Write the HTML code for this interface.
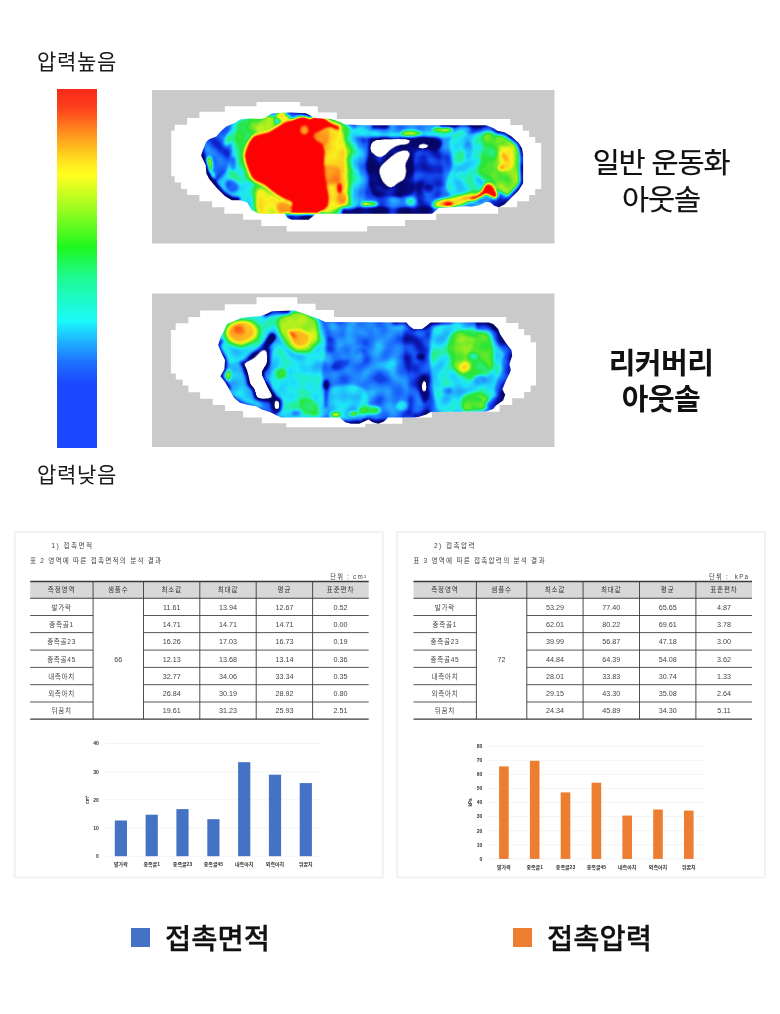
<!DOCTYPE html>
<html lang="ko">
<head>
<meta charset="utf-8">
<title>압력 분포 비교</title>
<style>
html,body{margin:0;padding:0;background:#fff;}
body{width:780px;height:1014px;position:relative;overflow:hidden;font-family:"Liberation Sans","Noto Sans CJK KR",sans-serif;color:#111;}
.abs{position:absolute;white-space:nowrap;}
.lbl{font-size:21px;line-height:24px;letter-spacing:0.65px;color:#1a1a1a;}
.name{font-size:28.3px;line-height:36.5px;text-align:center;width:200px;color:#111;letter-spacing:-1.1px;-webkit-text-stroke:0.25px #111;transform:scaleX(1.04);transform-origin:50% 50%;}
.nb{font-size:29px;letter-spacing:-0.5px;font-weight:700;-webkit-text-stroke:0;transform:none;}
.bar{left:57px;top:89px;width:40px;height:359px;background:linear-gradient(to bottom,#fa2a1c 0%,#fc3e1c 5%,#ff8c1e 12%,#ffc31e 17%,#ffeb1e 21%,#ffff20 24%,#a0fc20 33%,#1ef81e 44%,#1efa8c 52%,#1cfafa 64.5%,#1eaaff 71%,#1e6eff 76.5%,#1c48ff 82%,#1c48ff 100%);}
.panel{border:1px solid #ececec;background:#fff;box-sizing:border-box;}
.leg{font-size:28.5px;font-weight:500;line-height:32px;color:#111;-webkit-text-stroke:0.3px #111;}
.sq{width:19px;height:19px;}
</style>
</head>
<body>
<div class="abs lbl" style="left:37px;top:50px;">압력높음</div>
<div class="abs bar"></div>
<div class="abs lbl" style="left:37px;top:463px;">압력낮음</div>
<svg class="abs" style="left:0;top:0" width="780" height="520" viewBox="0 0 780 520">
<defs>
<filter id="jet" filterUnits="userSpaceOnUse" x="150" y="85" width="410" height="370" color-interpolation-filters="sRGB">
<feGaussianBlur in="SourceGraphic" stdDeviation="1.7" result="b"/>
<feTurbulence type="fractalNoise" baseFrequency="0.075" numOctaves="1" seed="7" result="n0"/>
<feColorMatrix in="n0" type="matrix" values="2 0 0 0 -0.5  2 0 0 0 -0.5  2 0 0 0 -0.5  0 0 0 0 1" result="n"/>
<feComposite in="b" in2="n" operator="arithmetic" k1="-0.34" k2="1.17" k3="0.34" k4="-0.17" result="f"/>
<feComponentTransfer in="f" result="c">
<feFuncR type="table" tableValues="0.024 0.025 0.026 0.028 0.029 0.031 0.034 0.040 0.046 0.052 0.059 0.067 0.075 0.082 0.091 0.101 0.111 0.121 0.131 0.141 0.137 0.133 0.129 0.125 0.122 0.118 0.129 0.140 0.151 0.157 0.157 0.157 0.157 0.284 0.412 0.539 0.667 0.771 0.876 0.980 0.985 0.989 0.993 0.998 1.000 1.000 1.000 0.999 0.997 0.996 0.996"/>
<feFuncG type="table" tableValues="0.024 0.028 0.032 0.036 0.041 0.045 0.061 0.088 0.116 0.143 0.182 0.233 0.284 0.335 0.381 0.423 0.464 0.506 0.547 0.588 0.642 0.695 0.749 0.803 0.856 0.910 0.919 0.928 0.937 0.934 0.921 0.908 0.894 0.906 0.918 0.929 0.941 0.946 0.952 0.957 0.884 0.810 0.737 0.664 0.562 0.431 0.301 0.184 0.082 0.024 0.008"/>
<feFuncB type="table" tableValues="0.392 0.417 0.442 0.467 0.492 0.517 0.566 0.640 0.713 0.787 0.843 0.882 0.922 0.961 0.982 0.986 0.989 0.993 0.996 1.000 0.995 0.991 0.986 0.982 0.977 0.973 0.863 0.753 0.643 0.536 0.430 0.325 0.220 0.194 0.169 0.143 0.118 0.118 0.118 0.118 0.118 0.118 0.118 0.118 0.108 0.090 0.072 0.051 0.027 0.013 0.008"/>
</feComponentTransfer>
<feColorMatrix in="b" type="matrix" values="0 0 0 0 0  0 0 0 0 0  0 0 0 0 0  50 0 0 0 -1" result="m"/>
<feComposite in="c" in2="m" operator="in"/>
</filter>
<clipPath id="f1"><polygon points="201,155.5 202.9,149.9 206.4,141.4 209.2,139.3 216.3,136.5 220.5,131.5 226.2,126.6 234.6,123.1 240.3,119.6 248.7,118.6 260,118.9 264.9,118.1 270.5,113.9 276.2,112.9 290.3,112.5 305.8,113.2 311.4,116 314.2,118.1 331.2,118.9 339.6,121.7 345.3,124.5 365,125.2 486.2,125.2 493.2,128 497.4,130.8 504.5,132.2 511.6,136.5 518.6,142.8 522.1,148.5 523.1,155.5 523.1,179 523.1,183.3 518.6,190.4 511.5,197.4 504.5,204.5 498.9,207.3 494.6,205.9 490.4,202.4 486.2,201.7 479.1,205.2 472,206.6 465,206.3 439,208 432,213.7 315.6,213.7 312.8,216.5 308.6,219.7 291.7,219.7 287.4,217.9 284.6,213.7 260,213.7 251.6,210.1 247.3,202.4 240.3,200.3 231.8,200.3 224.8,196 216.3,187.6 209.2,179.1 206.4,173.5 205.7,165"/></clipPath>
<clipPath id="f2"><polygon points="260,316.2 248.7,316.9 240.3,318.3 234.6,321.1 226.9,324 224.8,328.9 220.5,337.4 218.1,345 221.5,353.1 225,360 224.4,369.2 220.4,376.2 225,381.9 229.6,390 234.2,398.1 240,402.7 248.1,405 256.2,406.2 261.9,409.6 270,411.9 276.9,415.4 281.5,417.4 339.6,417.4 345.3,422.3 350.9,423.7 359.4,423.7 364.2,421.6 368.5,419.5 372.7,422.3 378.3,423.7 384,421.6 388.2,417.4 413.6,417.4 419.2,416.7 426.3,414.5 430.5,412 486.2,411.4 493.2,408.9 496,405.4 503.1,400.4 505.2,394.8 502.4,389.2 505.9,380.7 510.1,372.2 510.8,369.8 509.4,364.2 512.2,355.7 511.5,350.1 505.9,343 500.3,334.5 498.1,328.9 493.2,324 489,322.6 430.5,322.6 426.3,326.1 422,328.9 413.6,328.9 409.4,326.1 406.5,322.6 325.5,321.9 317,318.3 308.6,315.5 301.5,312.7 294.5,310.6 271.9,311.3 266.3,314.1"/></clipPath>
</defs>
<rect x="152" y="90" width="402.5" height="153.5" fill="#cacaca"/>
<rect x="152" y="293.5" width="402.5" height="153.5" fill="#cacaca"/>
<polygon points="256.5,101.9 300.1,101.9 300.1,106.2 317.8,106.2 317.8,112.5 336.8,112.5 336.8,118.9 510.4,118.9 510.4,124.9 522.8,124.9 522.8,130.8 529.2,130.8 529.2,136.9 535.2,136.9 535.2,143.1 541.2,143.1 541.2,189 535.2,189 535.2,194.9 529.2,194.9 529.2,201.2 517.2,201.2 517.2,207.3 498.1,207.3 498.1,213.7 436.2,213.7 436.2,220 405.1,220 405.1,225.9 367.1,225.9 367.1,231.6 286.7,231.6 286.7,225.9 261.3,225.9 261.3,219.7 243.1,219.7 243.1,213.7 224.3,213.7 224.3,207.3 212.1,207.3 212.1,201.2 199.4,201.2 199.4,194.9 187,194.9 187,189 181,189 181,182.6 174.7,182.6 174.7,176.3 171.2,176.3 171.2,130.8 174.7,130.8 174.7,124.8 187,124.8 187,118.1 199.4,118.1 199.4,111.8 224.8,111.8 224.8,106.2 256.5,106.2" fill="#fff"/>
<g clip-path="url(#f1)"><g filter="url(#jet)">
<rect x="150" y="85" width="410" height="165" fill="#454545"/>
<ellipse cx="202" cy="154" rx="3" ry="9" fill="#0d0d0d"/>
<path d="M232.0,124.0C234.4,119.7 246.0,118.8 250.0,118.0C254.0,117.2 260.4,105.1 262.0,118.0C263.6,130.9 263.6,202.5 262.0,215.0C260.4,227.5 253.2,213.9 250.0,212.0C246.8,210.1 241.7,203.3 238.0,201.0C234.3,198.7 225.2,197.1 222.0,195.0C218.8,192.9 213.5,188.1 214.0,185.0C214.5,181.9 223.6,176.7 226.0,172.0C228.4,167.3 231.2,156.4 232.0,150.0C232.8,143.6 229.6,128.3 232.0,124.0Z" fill="#808080"/>
<ellipse cx="232" cy="186" rx="7" ry="6" fill="#454545" transform="rotate(30 232 186)"/>
<ellipse cx="216" cy="150" rx="5" ry="9" fill="#3d3d3d"/>
<ellipse cx="209" cy="165" rx="3.8" ry="9" fill="#bfbfbf"/>
<ellipse cx="212" cy="176" rx="3" ry="4" fill="#a3a3a3"/>
<path d="M251.6,133.0C253.9,132.4 262.5,130.9 265.3,129.8C268.2,128.8 270.9,126.4 273.1,125.1C275.2,123.8 279.3,121.0 281.6,119.8C283.9,118.7 289.8,103.5 290.3,116.7C290.8,129.9 285.3,205.8 285.3,218.6C285.2,231.3 289.3,214.2 290.0,212.4C290.6,210.5 291.2,206.6 290.0,205.0C288.7,203.4 283.6,202.2 280.7,200.6C277.8,199.0 271.2,195.1 268.4,193.1C265.5,191.2 261.7,187.2 259.2,185.7C256.8,184.2 251.7,183.0 249.9,182.0C248.2,181.0 247.2,179.6 246.2,178.3C245.3,177.0 243.9,174.1 243.1,172.3C242.3,170.6 240.7,167.3 240.0,165.0C239.3,162.7 237.7,157.3 237.7,155.0C237.7,152.7 239.3,149.6 240.0,147.7C240.7,145.7 242.1,142.0 243.1,140.2C244.1,138.4 246.6,135.3 247.8,134.3C248.9,133.4 249.2,133.6 251.6,133.0Z" fill="#a3a3a3"/>
<path d="M252.0,150.0C254.0,147.3 253.8,136.3 257.0,132.0C260.2,127.7 275.3,120.4 276.0,118.0C276.7,115.6 266.3,114.1 262.0,114.0C257.7,113.9 247.3,115.4 244.0,117.0C240.7,118.6 238.1,122.7 237.0,126.0C235.9,129.3 235.3,138.5 236.0,142.0C236.7,145.5 239.9,150.9 242.0,152.0C244.1,153.1 250.0,152.7 252.0,150.0Z" fill="#a3a3a3"/>
<path d="M256.5,128.0C257.0,126.3 259.9,121.6 262.0,120.0C264.1,118.4 270.1,115.7 272.0,116.0C273.9,116.3 276.5,120.1 276.0,122.0C275.5,123.9 270.4,128.5 268.0,130.0C265.6,131.5 259.5,133.3 258.0,133.0C256.5,132.7 256.0,129.7 256.5,128.0Z" fill="#b8b8b8"/>
<ellipse cx="233" cy="164" rx="3" ry="7" fill="#454545"/>
<ellipse cx="229" cy="138" rx="3.5" ry="9" fill="#808080" transform="rotate(25 229 138)"/>
<ellipse cx="282" cy="116" rx="7" ry="5" fill="#c7c7c7"/>
<path d="M254.0,183.0C255.1,180.1 259.6,184.7 262.0,186.0C264.4,187.3 269.1,191.1 272.0,193.0C274.9,194.9 281.3,198.4 284.0,200.0C286.7,201.6 290.9,202.9 292.0,205.0C293.1,207.1 296.0,214.5 292.0,216.0C288.0,217.5 267.1,217.1 262.0,216.0C256.9,214.9 255.1,212.4 254.0,208.0C252.9,203.6 252.9,185.9 254.0,183.0Z" fill="#a3a3a3"/>
<path d="M258.0,190.0C259.2,188.0 263.6,189.1 266.0,190.0C268.4,190.9 273.3,195.3 276.0,197.0C278.7,198.7 284.1,200.6 286.0,203.0C287.9,205.4 293.2,213.4 290.0,215.0C286.8,216.6 266.4,216.3 262.0,215.0C257.6,213.7 257.5,208.3 257.0,205.0C256.5,201.7 256.8,192.0 258.0,190.0Z" fill="#c7c7c7"/>
<ellipse cx="284" cy="207.5" rx="8" ry="6.5" fill="#dedede"/>
<path d="M322.0,122.0C325.5,110.0 342.9,122.3 348.0,124.0C353.1,125.7 357.6,128.9 360.0,135.0C362.4,141.1 365.5,161.3 366.0,170.0C366.5,178.7 365.3,194.3 364.0,200.0C362.7,205.7 361.6,211.1 356.0,213.0C350.4,214.9 326.5,226.1 322.0,214.0C317.5,201.9 318.5,134.0 322.0,122.0Z" fill="#616161"/>
<path d="M322.0,122.0C325.3,110.0 342.6,122.3 347.0,124.0C351.4,125.7 353.4,128.9 355.0,135.0C356.6,141.1 358.6,161.3 359.0,170.0C359.4,178.7 358.9,194.3 358.0,200.0C357.1,205.7 356.8,211.1 352.0,213.0C347.2,214.9 326.0,226.1 322.0,214.0C318.0,201.9 318.7,134.0 322.0,122.0Z" fill="#808080"/>
<path d="M322.0,122.0C324.9,110.0 340.3,122.3 344.0,124.0C347.7,125.7 348.8,128.9 350.0,135.0C351.2,141.1 352.7,161.3 353.0,170.0C353.3,178.7 352.9,194.9 352.0,200.0C351.1,205.1 350.0,206.1 346.0,208.0C342.0,209.9 325.2,225.5 322.0,214.0C318.8,202.5 319.1,134.0 322.0,122.0Z" fill="#a3a3a3"/>
<path d="M322.0,126.0C324.3,115.3 335.9,126.1 339.0,128.0C342.1,129.9 343.9,134.4 345.0,140.0C346.1,145.6 346.6,162.0 347.0,170.0C347.4,178.0 348.7,195.2 348.0,200.0C347.3,204.8 345.5,204.9 342.0,206.0C338.5,207.1 324.7,218.7 322.0,208.0C319.3,197.3 319.7,136.7 322.0,126.0Z" fill="#cccccc"/>
<path d="M313.0,127.0C315.0,125.3 325.9,125.3 328.0,127.0C330.1,128.7 329.4,137.5 329.0,140.0C328.6,142.5 327.1,146.0 325.0,146.0C322.9,146.0 314.6,142.5 313.0,140.0C311.4,137.5 311.0,128.7 313.0,127.0Z" fill="#dedede"/>
<path d="M324.0,166.0C325.7,163.9 336.9,165.9 339.0,168.0C341.1,170.1 341.7,179.9 340.0,182.0C338.3,184.1 328.1,186.1 326.0,184.0C323.9,181.9 322.3,168.1 324.0,166.0Z" fill="#dedede"/>
<ellipse cx="342" cy="198.5" rx="5" ry="6" fill="#dedede"/>
<rect x="342" y="208.5" width="24" height="7.5" fill="#0d0d0d"/>
<polygon points="256.5,134.5 269.1,131.5 276.2,127 284,122 292,119 300,116 322.7,116 331.2,122.4 339.6,125.9 341,128.7 336.8,130.1 331.2,127.3 325.5,127.3 321.3,130.1 314.2,133 312.8,137.2 317,141.4 322.7,144.2 324.8,151.3 324.1,165 324.8,176.3 326.9,186.2 329,197.4 328.3,205.9 324.1,210.1 315.6,216 287.4,216 291.7,210.1 291.7,203.1 283.2,198.9 271.9,191.8 263.5,184.7 255,181.2 251.6,177.7 248.7,172 245.9,165 243.8,155.5 245.9,148.5 248.7,141.4 253,135.8" fill="#ffffff"/>
<path d="M286,112 L306,112.6 L312,115.5" fill="none" stroke="#0d0d0d" stroke-width="6"/>
<polygon points="283,214.5 287.4,217.9 291.7,221 308.6,221 312.8,216.5 317,214.5" fill="#0d0d0d"/>
<path d="M201,148 L201.5,158 L206.4,173.5 L209.2,179.1 L216.3,187.6 L224.8,196 L231.8,200.6 L240,200.6" fill="none" stroke="#0a0a0a" stroke-width="6.5" stroke-linejoin="round"/>
<ellipse cx="304.4" cy="130.1" rx="4.5" ry="5" fill="#dedede"/>
<ellipse cx="339.6" cy="188.3" rx="2.6" ry="5" fill="#ffffff"/>
<rect x="356" y="122" width="114" height="15.2" fill="#616161"/>
<path d="M356.0,128.0C358.1,127.2 367.2,130.2 372.0,131.0C376.8,131.8 385.6,134.0 392.0,134.0C398.4,134.0 413.6,131.0 420.0,131.0C426.4,131.0 434.4,134.0 440.0,134.0C445.6,134.0 459.1,130.6 462.0,131.0C464.9,131.4 476.1,136.2 462.0,137.0C447.9,137.8 370.1,138.2 356.0,137.0C341.9,135.8 353.9,128.8 356.0,128.0Z" fill="#808080"/>
<rect x="375.5" y="123" width="14.1" height="5.5" fill="#0d0d0d"/>
<ellipse cx="411" cy="133.3" rx="10.5" ry="3.2" fill="#b8b8b8"/>
<ellipse cx="442.5" cy="129.5" rx="10.5" ry="3.6" fill="#b8b8b8"/>
<ellipse cx="447" cy="129" rx="5" ry="2.5" fill="#c7c7c7"/>
<path d="M369.0,142.0C369.6,139.8 367.1,137.9 374.0,137.5C380.9,137.1 431.4,136.4 438.0,137.5C444.6,138.6 441.8,146.3 440.0,148.0C438.2,149.7 422.6,151.8 420.0,154.0C417.4,156.2 414.6,166.4 414.0,170.0C413.4,173.6 414.6,187.4 414.0,190.0C413.4,192.6 411.8,195.4 408.0,196.0C404.2,196.6 379.8,197.1 376.0,196.0C372.2,194.9 370.8,188.6 370.0,185.0C369.2,181.4 368.1,164.3 368.0,160.0C367.9,155.7 368.4,144.2 369.0,142.0Z" fill="#0d0d0d"/>
<path d="M416.0,152.0C419.3,149.3 434.4,147.6 438.0,150.0C441.6,152.4 442.6,164.0 443.0,170.0C443.4,176.0 444.3,191.7 441.0,195.0C437.7,198.3 421.7,198.3 418.0,195.0C414.3,191.7 413.3,175.7 413.0,170.0C412.7,164.3 412.7,154.7 416.0,152.0Z" fill="#333333"/>
<ellipse cx="429" cy="189" rx="4" ry="4" fill="#0d0d0d"/>
<rect x="355" y="207.5" width="79" height="8.5" fill="#0d0d0d"/>
<ellipse cx="411.5" cy="201.5" rx="5.5" ry="4.5" fill="#808080"/>
<ellipse cx="411.5" cy="201.5" rx="2.5" ry="2" fill="#919191"/>
<ellipse cx="395" cy="200" rx="6" ry="3" fill="#616161"/>
<ellipse cx="370.5" cy="204" rx="7.5" ry="2.6" fill="#b8b8b8"/>
<ellipse cx="365" cy="204" rx="3" ry="2" fill="#dedede"/>
<rect x="372" y="124" width="16" height="5" fill="#0d0d0d"/>
<path d="M450.0,140.0C452.4,135.9 464.4,135.1 470.0,134.0C475.6,132.9 488.0,129.9 492.0,132.0C496.0,134.1 499.2,143.6 500.0,150.0C500.8,156.4 500.7,173.9 498.0,180.0C495.3,186.1 485.7,193.3 480.0,196.0C474.3,198.7 459.5,201.5 455.0,200.0C450.5,198.5 446.4,189.7 446.0,185.0C445.6,180.3 451.5,171.0 452.0,165.0C452.5,159.0 447.6,144.1 450.0,140.0Z" fill="#808080"/>
<ellipse cx="468" cy="150" rx="5" ry="8" fill="#616161"/>
<path d="M484.0,134.0C486.4,131.5 495.9,130.2 500.0,131.0C504.1,131.8 511.9,136.8 515.0,140.0C518.1,143.2 521.9,149.3 523.0,155.0C524.1,160.7 524.7,177.4 523.0,183.0C521.3,188.6 514.4,196.7 510.0,197.0C505.6,197.3 494.3,187.9 490.0,185.0C485.7,182.1 479.1,179.7 478.0,175.0C476.9,170.3 481.2,155.5 482.0,150.0C482.8,144.5 481.6,136.5 484.0,134.0Z" fill="#a3a3a3"/>
<ellipse cx="460" cy="175" rx="4" ry="4.5" fill="#919191"/>
<path d="M497.0,136.0C499.0,133.3 507.1,137.9 510.0,140.0C512.9,142.1 517.8,146.4 519.0,152.0C520.2,157.6 520.5,176.5 519.0,182.0C517.5,187.5 510.9,192.5 508.0,193.0C505.1,193.5 499.1,188.3 497.0,186.0C494.9,183.7 492.3,179.5 492.0,176.0C491.7,172.5 494.3,165.3 495.0,160.0C495.7,154.7 495.0,138.7 497.0,136.0Z" fill="#b0b0b0"/>
<path d="M500.0,146.0C501.9,144.7 510.1,147.6 512.0,150.0C513.9,152.4 514.8,161.3 514.0,164.0C513.2,166.7 508.1,170.5 506.0,170.0C503.9,169.5 498.8,163.2 498.0,160.0C497.2,156.8 498.1,147.3 500.0,146.0Z" fill="#c7c7c7"/>
<ellipse cx="504.5" cy="157" rx="2.6" ry="5.5" fill="#dedede" transform="rotate(-35 504.5 157)"/>
<ellipse cx="501.5" cy="167.5" rx="3" ry="3" fill="#dedede"/>
<path d="M486,125 L493,128 L497.4,130.8 L504.5,132.2 L511.6,136.5 L518.6,142.8 L522.1,148.5 L523.1,155.5 L523.1,183.3 L518.6,190.4 L511.5,197.4 L504.5,204.5 L498.9,207.3 L494.6,205.9 L490,202" fill="none" stroke="#1f1f1f" stroke-width="6" stroke-linejoin="round"/>
<path d="M440,125 L486,125" fill="none" stroke="#0d0d0d" stroke-width="4"/>
<path d="M434.0,201.0C435.9,199.5 444.3,197.9 448.0,197.0C451.7,196.1 458.5,194.9 462.0,194.0C465.5,193.1 471.3,190.0 474.0,190.0C476.7,190.0 481.7,192.5 482.0,194.0C482.3,195.5 478.7,199.4 476.0,201.0C473.3,202.6 467.6,205.1 462.0,206.0C456.4,206.9 437.7,208.7 434.0,208.0C430.3,207.3 432.1,202.5 434.0,201.0Z" fill="#a3a3a3"/>
<path d="M437.0,201.5C438.7,200.2 446.7,198.8 450.0,198.0C453.3,197.2 459.1,196.2 462.0,195.5C464.9,194.8 470.1,192.9 472.0,193.0C473.9,193.1 476.5,195.4 476.0,196.5C475.5,197.6 470.7,199.8 468.0,201.0C465.3,202.2 460.1,204.6 456.0,205.5C451.9,206.4 439.5,208.0 437.0,207.5C434.5,207.0 435.3,202.8 437.0,201.5Z" fill="#c7c7c7"/>
<ellipse cx="447" cy="204.3" rx="7.5" ry="3.2" fill="#dedede"/>
<ellipse cx="448.5" cy="204.3" rx="4.3" ry="2.2" fill="#ffffff"/>
<ellipse cx="465.5" cy="198" rx="3.5" ry="2" fill="#dedede"/>
<ellipse cx="474" cy="204.5" rx="8" ry="2.6" fill="#737373"/>
<path d="M469.2,197.4C470.1,196.8 474.6,196.2 476.3,195.3C478.0,194.4 480.8,191.8 481.9,190.4C483.0,189.0 483.8,185.6 484.7,184.7C485.6,183.8 487.9,183.1 489.0,183.3C490.1,183.5 492.2,185.1 493.2,186.2C494.2,187.3 496.0,190.6 496.7,191.8C497.4,193.0 498.3,194.4 498.1,195.3C497.9,196.2 496.3,198.7 495.3,198.9C494.3,199.1 491.6,197.3 490.4,196.7C489.2,196.1 487.5,194.4 486.2,194.6C484.9,194.8 482.2,197.3 480.5,198.1C478.8,198.9 475.0,200.1 473.5,200.3C472.0,200.5 469.8,200.0 469.2,199.6C468.6,199.2 468.3,198.0 469.2,197.4Z" fill="#ffffff"/>
<path d="M369.2,147.1C369.4,145.6 372.5,142.6 374.1,141.4C375.7,140.2 376.9,138.4 381.2,137.9C385.5,137.4 402.7,137.5 406.5,137.9C410.3,138.3 409.2,140.0 409.4,140.7C409.6,141.4 409.5,142.9 408.0,143.5C406.5,144.1 400.4,144.2 398.1,144.9C395.8,145.6 392.7,147.3 391.0,148.5C389.3,149.7 386.9,153.0 385.4,154.1C383.9,155.2 381.4,157.1 379.7,156.9C378.0,156.7 374.1,154.0 372.7,152.7C371.3,151.4 369.0,148.6 369.2,147.1Z" fill="#000000"/>
<path d="M400.9,151.3C402.6,150.9 406.9,150.7 408.0,151.3C409.1,151.9 409.8,153.8 409.4,155.5C409.0,157.2 405.6,161.8 405.1,164.0C404.6,166.2 406.0,170.0 405.8,172.0C405.6,174.0 404.9,177.6 403.7,179.1C402.5,180.6 398.2,182.3 396.7,183.3C395.2,184.3 393.5,186.5 392.4,186.9C391.3,187.3 389.5,187.1 388.2,186.2C386.9,185.3 383.7,182.4 382.6,180.5C381.5,178.6 379.9,173.8 379.7,172.0C379.5,170.2 380.1,168.4 381.2,166.8C382.3,165.2 386.3,161.5 388.2,159.8C390.1,158.1 393.6,155.2 395.3,154.1C397.0,153.0 399.2,151.7 400.9,151.3Z" fill="#000000"/>
<ellipse cx="423.5" cy="147.1" rx="4.9" ry="2.8" fill="#000000"/>
</g></g>
<polygon points="256.5,297.2 297.3,297.2 297.3,303.8 315.6,303.8 315.6,310.1 334,310.1 334,316.9 506.2,316.9 506.2,323 518.3,323 518.3,328.9 524.2,328.9 524.2,335.2 530.6,335.2 530.6,342.3 536,342.3 536,385.6 530.6,385.6 530.6,392 524.2,392 524.2,398.3 512.2,398.3 512.2,405 499.6,405 499.6,411.7 432,411.7 432,417.4 402.3,417.4 402.3,423.7 365.4,423.7 365.4,427.2 286.3,427.2 286.3,423.3 261.8,423.3 261.8,417.4 243.1,417.4 243.1,411 225,411 225,405 212.8,405 212.8,398.7 200.1,398.7 200.1,392.3 188.4,392.3 188.4,385.6 182.7,385.6 182.7,379.6 175.8,379.6 175.8,373.4 170.9,373.4 170.9,329.9 175.7,329.9 175.7,323.3 188.4,323.3 188.4,316.9 200.1,316.9 200.1,310.6 224.8,310.6 224.8,304.2 256.5,304.2" fill="#fff"/>
<g clip-path="url(#f2)"><g filter="url(#jet)">
<rect x="150" y="290" width="410" height="160" fill="#505050"/>
<path d="M330.0,325.0C340.7,321.7 395.0,322.3 405.0,325.0C415.0,327.7 406.3,338.7 405.0,345.0C403.7,351.3 395.7,365.3 395.0,372.0C394.3,378.7 401.3,390.2 400.0,395.0C398.7,399.8 393.0,407.3 385.0,408.0C377.0,408.7 347.3,403.7 340.0,400.0C332.7,396.3 332.0,386.7 330.0,380.0C328.0,373.3 325.0,357.3 325.0,350.0C325.0,342.7 319.3,328.3 330.0,325.0Z" fill="#575757"/>
<ellipse cx="352" cy="335" rx="6" ry="9" fill="#616161" transform="rotate(-30 352 335)"/>
<ellipse cx="372" cy="340" rx="10" ry="4" fill="#616161" transform="rotate(40 372 340)"/>
<ellipse cx="385" cy="365" rx="12" ry="4" fill="#616161" transform="rotate(-20 385 365)"/>
<ellipse cx="368" cy="382" rx="9" ry="5" fill="#616161" transform="rotate(10 368 382)"/>
<ellipse cx="360" cy="352" rx="6" ry="4" fill="#404040"/>
<ellipse cx="340" cy="365" rx="9" ry="5" fill="#3d3d3d" transform="rotate(-20 340 365)"/>
<ellipse cx="330" cy="345" rx="7" ry="8" fill="#404040"/>
<ellipse cx="358" cy="330" rx="3.5" ry="5" fill="#616161"/>
<ellipse cx="361" cy="358" rx="4" ry="5" fill="#616161"/>
<path d="M406.0,322.0C409.5,318.3 426.5,318.3 430.0,322.0C433.5,325.7 431.5,342.3 432.0,350.0C432.5,357.7 434.0,371.3 434.0,380.0C434.0,388.7 435.2,409.9 432.0,415.0C428.8,420.1 413.2,422.7 410.0,418.0C406.8,413.3 408.8,389.1 408.0,380.0C407.2,370.9 404.3,357.7 404.0,350.0C403.7,342.3 402.5,325.7 406.0,322.0Z" fill="#3c3c3c"/>
<ellipse cx="420.6" cy="357.1" rx="4" ry="2.5" fill="#0d0d0d"/>
<ellipse cx="424.2" cy="389" rx="4.5" ry="14" fill="#0d0d0d"/>
<path d="M222.0,318.0C228.1,313.6 254.8,311.5 262.0,312.0C269.2,312.5 274.3,317.6 276.0,322.0C277.7,326.4 277.4,341.0 275.0,345.0C272.6,349.0 262.1,349.7 258.0,352.0C253.9,354.3 248.3,360.7 244.0,362.0C239.7,363.3 229.7,364.3 226.0,362.0C222.3,359.7 216.5,350.9 216.0,345.0C215.5,339.1 215.9,322.4 222.0,318.0Z" fill="#808080"/>
<ellipse cx="242" cy="333" rx="19.5" ry="14.5" fill="#a3a3a3" transform="rotate(-12 242 333)"/>
<ellipse cx="242" cy="332.5" rx="16" ry="11.5" fill="#c7c7c7" transform="rotate(-12 242 332.5)"/>
<ellipse cx="241.5" cy="332" rx="13" ry="9" fill="#d7d7d7" transform="rotate(-12 241.5 332)"/>
<ellipse cx="239.5" cy="330" rx="6" ry="4.5" fill="#e6e6e6" transform="rotate(35 239.5 330)"/>
<path d="M226.0,364.0C229.2,361.9 242.5,361.1 246.0,364.0C249.5,366.9 250.4,381.5 252.0,386.0C253.6,390.5 256.7,395.1 258.0,398.0C259.3,400.9 263.9,406.9 262.0,408.0C260.1,409.1 248.0,407.6 244.0,406.0C240.0,404.4 234.9,399.5 232.0,396.0C229.1,392.5 222.8,384.3 222.0,380.0C221.2,375.7 222.8,366.1 226.0,364.0Z" fill="#707070"/>
<ellipse cx="228.2" cy="375" rx="2.6" ry="6" fill="#b8b8b8"/>
<ellipse cx="239" cy="394" rx="5" ry="3.5" fill="#808080"/>
<ellipse cx="221.5" cy="362" rx="3.5" ry="6" fill="#2e2e2e"/>
<ellipse cx="219.5" cy="377" rx="2.5" ry="4" fill="#0d0d0d"/>
<path d="M272.0,318.0C275.5,313.7 293.3,307.5 300.0,308.0C306.7,308.5 318.5,317.1 322.0,322.0C325.5,326.9 326.0,337.9 326.0,345.0C326.0,352.1 321.5,367.7 322.0,375.0C322.5,382.3 330.0,394.3 330.0,400.0C330.0,405.7 328.7,415.6 322.0,418.0C315.3,420.4 286.7,421.1 280.0,418.0C273.3,414.9 273.3,402.1 272.0,395.0C270.7,387.9 269.7,372.3 270.0,365.0C270.3,357.7 273.7,346.3 274.0,340.0C274.3,333.7 268.5,322.3 272.0,318.0Z" fill="#7d7d7d"/>
<path d="M278.0,318.0C280.9,315.5 294.7,310.5 300.0,311.0C305.3,311.5 315.5,317.9 318.0,322.0C320.5,326.1 320.1,338.0 319.0,342.0C317.9,346.0 313.1,350.5 310.0,352.0C306.9,353.5 299.5,354.1 296.0,353.0C292.5,351.9 286.4,347.1 284.0,344.0C281.6,340.9 278.8,333.5 278.0,330.0C277.2,326.5 275.1,320.5 278.0,318.0Z" fill="#a3a3a3"/>
<path d="M280.4,318.0C282.9,315.7 295.3,312.5 300.0,313.0C304.7,313.5 313.9,318.4 316.0,322.0C318.1,325.6 317.1,336.4 316.0,340.0C314.9,343.6 310.7,347.7 308.0,349.0C305.3,350.3 298.9,350.9 296.0,350.0C293.1,349.1 288.0,344.7 286.0,342.0C284.0,339.3 281.7,333.2 281.0,330.0C280.3,326.8 277.9,320.3 280.4,318.0Z" fill="#b8b8b8"/>
<path d="M289.0,331.0C289.9,329.3 297.3,329.5 300.0,330.0C302.7,330.5 307.9,333.1 309.0,335.0C310.1,336.9 309.2,342.4 308.0,344.0C306.8,345.6 302.0,347.1 300.0,347.0C298.0,346.9 294.5,345.1 293.0,343.0C291.5,340.9 288.1,332.7 289.0,331.0Z" fill="#d6d6d6"/>
<ellipse cx="292.5" cy="334.5" rx="2" ry="5.5" fill="#ebebeb" transform="rotate(-50 292.5 334.5)"/>
<ellipse cx="280.5" cy="373.5" rx="6" ry="5.5" fill="#a3a3a3"/>
<path d="M290.0,385.0C292.3,382.1 300.7,380.0 305.0,380.0C309.3,380.0 319.2,382.3 322.0,385.0C324.8,387.7 326.0,395.9 326.0,400.0C326.0,404.1 325.5,413.9 322.0,416.0C318.5,418.1 304.5,417.9 300.0,416.0C295.5,414.1 289.3,406.1 288.0,402.0C286.7,397.9 287.7,387.9 290.0,385.0Z" fill="#808080"/>
<path d="M300.0,399.0C301.6,398.1 309.5,398.1 312.0,399.0C314.5,399.9 317.8,403.9 318.5,406.0C319.2,408.1 318.7,413.9 317.0,415.0C315.3,416.1 308.3,415.2 306.0,414.0C303.7,412.8 300.8,408.0 300.0,406.0C299.2,404.0 298.4,399.9 300.0,399.0Z" fill="#a3a3a3"/>
<ellipse cx="297" cy="413" rx="5" ry="3" fill="#4c4c4c"/>
<ellipse cx="325.8" cy="385" rx="2.4" ry="5" fill="#0d0d0d"/>
<ellipse cx="326" cy="398" rx="2" ry="10" fill="#333333"/>
<path d="M330.0,390.0C332.0,385.6 340.3,385.0 345.0,385.0C349.7,385.0 362.3,385.6 365.0,390.0C367.7,394.4 369.7,414.3 365.0,418.0C360.3,421.7 334.7,421.7 330.0,418.0C325.3,414.3 328.0,394.4 330.0,390.0Z" fill="#737373"/>
<ellipse cx="335.3" cy="414.5" rx="4.3" ry="2.2" fill="#c7c7c7"/>
<ellipse cx="353.7" cy="413.8" rx="4.3" ry="2.2" fill="#c7c7c7"/>
<ellipse cx="362" cy="411" rx="4" ry="3" fill="#a3a3a3"/>
<ellipse cx="370.5" cy="410" rx="10.5" ry="4.5" fill="#a3a3a3"/>
<ellipse cx="402" cy="406" rx="6" ry="5" fill="#808080"/>
<path d="M247,362 L258,353 L267,344 L272,337" fill="none" stroke="#0d0d0d" stroke-width="7" stroke-linecap="round"/>
<path d="M239.9,362.1C241.2,360.6 249.4,358.6 252.3,356.9C255.2,355.1 259.7,350.4 261.8,349.1C263.9,347.8 266.9,346.5 268.0,347.2C269.1,347.9 270.1,352.1 270.3,354.3C270.5,356.4 270.3,360.9 269.5,363.4C268.6,365.8 264.5,370.3 264.1,372.4C263.7,374.5 265.4,376.9 266.4,378.9C267.3,381.0 269.7,385.5 271.1,387.9C272.4,390.3 276.1,395.2 276.5,397.0C276.9,398.7 276.0,400.3 274.2,400.9C272.4,401.5 265.7,401.7 263.3,401.5C260.8,401.4 257.0,401.0 255.6,399.5C254.1,398.0 253.4,392.4 252.3,390.5C251.3,388.6 248.7,387.2 247.7,385.3C246.8,383.4 246.1,378.6 245.4,376.3C244.8,374.1 243.8,370.4 243.0,368.5C242.3,366.6 238.7,363.7 239.9,362.1Z" fill="#0d0d0d"/>
<ellipse cx="277" cy="405" rx="5.5" ry="8" fill="#0d0d0d"/>
<path d="M226,392 L236,401 L250,406 L262,411 L276,417" fill="none" stroke="#1f1f1f" stroke-width="3.5"/>
<path d="M221,340 L218.5,346 L222,354 L225.5,361 L224.5,369 L220.5,376 L225,382 L230,390" fill="none" stroke="#1a1a1a" stroke-width="4" stroke-linejoin="round"/>
<path d="M264,314 L272,311 L290,310.5" fill="none" stroke="#0d0d0d" stroke-width="6"/>
<path d="M392,322.6 L406.5,322.6 L409.4,326.1 L413.6,328.9 L422,328.9 L426.3,326.1 L430.5,322.6 L452,322.6" fill="none" stroke="#0d0d0d" stroke-width="4.5" stroke-linejoin="round"/>
<path d="M340,423.5 L360,424 M362,422 L386,423 M414,417.5 L430,413" fill="none" stroke="#0d0d0d" stroke-width="6"/>
<path d="M436.0,326.0C442.7,322.5 471.5,322.8 480.0,324.0C488.5,325.2 496.3,330.9 500.0,335.0C503.7,339.1 507.5,348.3 508.0,355.0C508.5,361.7 505.9,378.3 504.0,385.0C502.1,391.7 498.5,401.4 494.0,405.0C489.5,408.6 477.2,411.1 470.0,412.0C462.8,412.9 445.1,415.6 440.0,412.0C434.9,408.4 433.3,393.3 432.0,385.0C430.7,376.7 429.5,357.9 430.0,350.0C430.5,342.1 429.3,329.5 436.0,326.0Z" fill="#7d7d7d"/>
<ellipse cx="447" cy="390" rx="4.5" ry="3.5" fill="#525252"/>
<path d="M452.0,334.0C455.5,331.1 468.9,327.5 474.0,328.0C479.1,328.5 487.3,333.7 490.0,338.0C492.7,342.3 494.5,354.7 494.0,360.0C493.5,365.3 489.2,375.3 486.0,378.0C482.8,380.7 474.1,381.1 470.0,380.0C465.9,378.9 457.9,374.0 455.0,370.0C452.1,366.0 448.4,354.8 448.0,350.0C447.6,345.2 448.5,336.9 452.0,334.0Z" fill="#a3a3a3"/>
<path d="M455.0,341.0C456.3,339.0 461.5,336.4 464.0,336.0C466.5,335.6 472.9,336.4 474.0,338.0C475.1,339.6 472.9,345.3 472.0,348.0C471.1,350.7 467.4,355.3 467.0,358.0C466.6,360.7 469.7,366.0 469.0,368.0C468.3,370.0 463.7,373.7 462.0,373.0C460.3,372.3 457.1,365.9 456.0,363.0C454.9,360.1 454.1,353.9 454.0,351.0C453.9,348.1 453.7,343.0 455.0,341.0Z" fill="#b2b2b2"/>
<ellipse cx="482" cy="345" rx="5" ry="4" fill="#a8a8a8"/>
<ellipse cx="465" cy="367" rx="5" ry="5" fill="#c7c7c7"/>
<ellipse cx="474" cy="356" rx="4" ry="3" fill="#808080"/>
<ellipse cx="480" cy="380" rx="7" ry="5" fill="#6b6b6b"/>
<path d="M462.0,396.0C463.9,393.5 474.5,391.5 478.0,392.0C481.5,392.5 487.2,397.6 488.0,400.0C488.8,402.4 487.2,408.5 484.0,410.0C480.8,411.5 466.9,412.9 464.0,411.0C461.1,409.1 460.1,398.5 462.0,396.0Z" fill="#a3a3a3"/>
<ellipse cx="478" cy="404" rx="5" ry="3" fill="#adadad" transform="rotate(20 478 404)"/>
<ellipse cx="470" cy="401" rx="4" ry="3" fill="#a3a3a3"/>
<path d="M476,322.6 L489,322.6 L493.2,324 L498.1,328.9 L500.3,334.5 L505.9,343 L511.5,350.1 L512.2,355.7 L509.4,364.2 L510.8,369.8 L505.9,380.7 L502.4,389.2 L505.2,394.8 L503.1,400.4 L496,405.4 L490,410" fill="none" stroke="#424242" stroke-width="15" stroke-linejoin="round"/>
<path d="M498.1,328.9 L500.3,334.5 L505.9,343 L511.5,350.1 L512.2,355.7 L509.4,364.2 L510.8,369.8 L505.9,380.7 L502.4,389.2 L505.2,394.8 L503.1,400.4 L496,405.4" fill="none" stroke="#2b2b2b" stroke-width="5" stroke-linejoin="round"/>
<path d="M476,322.6 L489,322.6 L493.2,324 L498.1,328.9" fill="none" stroke="#0d0d0d" stroke-width="5" stroke-linejoin="round"/>
<ellipse cx="503.5" cy="395" rx="2" ry="3.5" fill="#0d0d0d"/>
<path d="M244.6,363.5C245.5,362.1 251.6,360.3 253.8,358.8C256.0,357.3 259.3,353.0 260.8,351.9C262.3,350.8 264.6,349.6 265.4,350.2C266.2,350.8 267.0,354.6 267.1,356.5C267.2,358.4 267.1,362.4 266.5,364.6C265.9,366.8 262.8,370.8 262.5,372.7C262.2,374.6 263.5,376.7 264.2,378.5C264.9,380.3 266.7,384.4 267.7,386.5C268.7,388.6 271.4,393.1 271.7,394.6C272.0,396.1 271.3,397.6 270.0,398.1C268.7,398.6 263.7,398.9 261.9,398.7C260.1,398.5 257.3,398.2 256.2,396.9C255.1,395.6 254.6,390.5 253.8,388.8C253.0,387.1 251.1,385.9 250.4,384.2C249.7,382.5 249.2,378.2 248.7,376.2C248.2,374.2 247.4,370.9 246.9,369.2C246.4,367.5 243.7,364.9 244.6,363.5Z" fill="#000000"/>
<ellipse cx="276.9" cy="405" rx="2.5" ry="4.6" fill="#000000"/>
<ellipse cx="424.2" cy="386.1" rx="2.8" ry="5.4" fill="#000000"/>
</g></g>
</svg>
<div class="abs name" style="left:561px;top:145px;">일반 운동화<br>아웃솔</div>
<div class="abs name nb" style="left:561px;top:345.6px;">리커버리<br>아웃솔</div>
<svg class="abs" style="left:0;top:520px" width="780" height="370" viewBox="0 520 780 370">
<style>
.tt{font-size:6.6px;fill:#444;letter-spacing:1.45px}
.tc{font-size:6.6px;fill:#444;letter-spacing:1.22px}
.tu{font-size:6.3px;fill:#444;letter-spacing:1.2px}
.th{font-size:6.5px;fill:#333;letter-spacing:0.9px}
.td{font-size:6.5px;fill:#444;letter-spacing:0.75px}
.tn{font-size:7.2px;fill:#444}
.ax{font-size:5px;fill:#333;font-weight:700}
.ct{font-size:5px;fill:#333;font-weight:700}
.yl{font-size:4.6px;fill:#333;font-weight:700}
</style>
<rect x="14.75" y="532" width="368" height="345.5" fill="#fff" stroke="#eeeeee" stroke-width="1.5"/>
<rect x="397.25" y="532" width="367.75" height="345.5" fill="#fff" stroke="#eeeeee" stroke-width="1.5"/>
<text x="51.5" y="548.3" class="tt">1) 접촉면적</text>
<text x="29.9" y="563.3" class="tc">표 2 영역에 따른 접촉면적의 분석 결과</text>
<text x="367.2" y="579.3" class="tu" text-anchor="end">단위 : cm²</text>
<rect x="30.2" y="581.4" width="338.5" height="16.8" fill="#d8d8d8"/>
<path d="M30.2,581.4H368.7" stroke="#3a3a3a" stroke-width="1.5"/>
<path d="M30.2,598.2H368.7" stroke="#444" stroke-width="1.1"/>
<path d="M30.2,719.1H368.7" stroke="#3a3a3a" stroke-width="1.3"/>
<path d="M30.2,615.5H93.1M143.5,615.5H368.7M30.2,632.6H93.1M143.5,632.6H368.7M30.2,650.1H93.1M143.5,650.1H368.7M30.2,667.4H93.1M143.5,667.4H368.7M30.2,684.7H93.1M143.5,684.7H368.7M30.2,702.0H93.1M143.5,702.0H368.7" stroke="#444" stroke-width="0.9"/>
<path d="M93.1,581.4V719.1M143.5,581.4V719.1M199.8,581.4V719.1M256.2,581.4V719.1M312.6,581.4V719.1" stroke="#3a3a3a" stroke-width="0.9"/>
<text x="61.6" y="592.2" class="th" text-anchor="middle">측정영역</text>
<text x="118.3" y="592.2" class="th" text-anchor="middle">샘플수</text>
<text x="171.7" y="592.2" class="th" text-anchor="middle">최소값</text>
<text x="228.0" y="592.2" class="th" text-anchor="middle">최대값</text>
<text x="284.4" y="592.2" class="th" text-anchor="middle">평균</text>
<text x="340.6" y="592.2" class="th" text-anchor="middle">표준편차</text>
<text x="61.6" y="609.6" class="td" text-anchor="middle">발가락</text>
<text x="171.7" y="609.6" class="tn" text-anchor="middle">11.61</text>
<text x="228.0" y="609.6" class="tn" text-anchor="middle">13.94</text>
<text x="284.4" y="609.6" class="tn" text-anchor="middle">12.67</text>
<text x="340.6" y="609.6" class="tn" text-anchor="middle">0.52</text>
<text x="61.6" y="626.8" class="td" text-anchor="middle">중족골1</text>
<text x="171.7" y="626.8" class="tn" text-anchor="middle">14.71</text>
<text x="228.0" y="626.8" class="tn" text-anchor="middle">14.71</text>
<text x="284.4" y="626.8" class="tn" text-anchor="middle">14.71</text>
<text x="340.6" y="626.8" class="tn" text-anchor="middle">0.00</text>
<text x="61.6" y="644.1" class="td" text-anchor="middle">중족골23</text>
<text x="171.7" y="644.1" class="tn" text-anchor="middle">16.26</text>
<text x="228.0" y="644.1" class="tn" text-anchor="middle">17.03</text>
<text x="284.4" y="644.1" class="tn" text-anchor="middle">16.73</text>
<text x="340.6" y="644.1" class="tn" text-anchor="middle">0.19</text>
<text x="61.6" y="661.5" class="td" text-anchor="middle">중족골45</text>
<text x="171.7" y="661.5" class="tn" text-anchor="middle">12.13</text>
<text x="228.0" y="661.5" class="tn" text-anchor="middle">13.68</text>
<text x="284.4" y="661.5" class="tn" text-anchor="middle">13.14</text>
<text x="340.6" y="661.5" class="tn" text-anchor="middle">0.36</text>
<text x="61.6" y="678.8" class="td" text-anchor="middle">내측아치</text>
<text x="171.7" y="678.8" class="tn" text-anchor="middle">32.77</text>
<text x="228.0" y="678.8" class="tn" text-anchor="middle">34.06</text>
<text x="284.4" y="678.8" class="tn" text-anchor="middle">33.34</text>
<text x="340.6" y="678.8" class="tn" text-anchor="middle">0.35</text>
<text x="61.6" y="696.1" class="td" text-anchor="middle">외측아치</text>
<text x="171.7" y="696.1" class="tn" text-anchor="middle">26.84</text>
<text x="228.0" y="696.1" class="tn" text-anchor="middle">30.19</text>
<text x="284.4" y="696.1" class="tn" text-anchor="middle">28.92</text>
<text x="340.6" y="696.1" class="tn" text-anchor="middle">0.80</text>
<text x="61.6" y="713.3" class="td" text-anchor="middle">뒤꿈치</text>
<text x="171.7" y="713.3" class="tn" text-anchor="middle">19.61</text>
<text x="228.0" y="713.3" class="tn" text-anchor="middle">31.23</text>
<text x="284.4" y="713.3" class="tn" text-anchor="middle">25.93</text>
<text x="340.6" y="713.3" class="tn" text-anchor="middle">2.51</text>
<text x="118.3" y="661.9" class="tn" text-anchor="middle">66</text>
<text x="434" y="548.3" class="tt">2) 접촉압력</text>
<text x="413.2" y="563.3" class="tc">표 3 영역에 따른 접촉압력의 분석 결과</text>
<text x="749.3" y="579.3" class="tu" text-anchor="end">단위 :  kPa</text>
<rect x="413.5" y="581.4" width="338.5" height="16.8" fill="#d8d8d8"/>
<path d="M413.5,581.4H752.0" stroke="#3a3a3a" stroke-width="1.5"/>
<path d="M413.5,598.2H752.0" stroke="#444" stroke-width="1.1"/>
<path d="M413.5,719.1H752.0" stroke="#3a3a3a" stroke-width="1.3"/>
<path d="M413.5,615.5H476.4M526.8,615.5H752.0M413.5,632.6H476.4M526.8,632.6H752.0M413.5,650.1H476.4M526.8,650.1H752.0M413.5,667.4H476.4M526.8,667.4H752.0M413.5,684.7H476.4M526.8,684.7H752.0M413.5,702.0H476.4M526.8,702.0H752.0" stroke="#444" stroke-width="0.9"/>
<path d="M476.4,581.4V719.1M526.8,581.4V719.1M583.1,581.4V719.1M639.5,581.4V719.1M695.9000000000001,581.4V719.1" stroke="#3a3a3a" stroke-width="0.9"/>
<text x="444.9" y="592.2" class="th" text-anchor="middle">측정영역</text>
<text x="501.6" y="592.2" class="th" text-anchor="middle">샘플수</text>
<text x="555.0" y="592.2" class="th" text-anchor="middle">최소값</text>
<text x="611.3" y="592.2" class="th" text-anchor="middle">최대값</text>
<text x="667.7" y="592.2" class="th" text-anchor="middle">평균</text>
<text x="724.0" y="592.2" class="th" text-anchor="middle">표준편차</text>
<text x="444.9" y="609.6" class="td" text-anchor="middle">발가락</text>
<text x="555.0" y="609.6" class="tn" text-anchor="middle">53.29</text>
<text x="611.3" y="609.6" class="tn" text-anchor="middle">77.40</text>
<text x="667.7" y="609.6" class="tn" text-anchor="middle">65.65</text>
<text x="724.0" y="609.6" class="tn" text-anchor="middle">4.87</text>
<text x="444.9" y="626.8" class="td" text-anchor="middle">중족골1</text>
<text x="555.0" y="626.8" class="tn" text-anchor="middle">62.01</text>
<text x="611.3" y="626.8" class="tn" text-anchor="middle">80.22</text>
<text x="667.7" y="626.8" class="tn" text-anchor="middle">69.61</text>
<text x="724.0" y="626.8" class="tn" text-anchor="middle">3.78</text>
<text x="444.9" y="644.1" class="td" text-anchor="middle">중족골23</text>
<text x="555.0" y="644.1" class="tn" text-anchor="middle">39.99</text>
<text x="611.3" y="644.1" class="tn" text-anchor="middle">56.87</text>
<text x="667.7" y="644.1" class="tn" text-anchor="middle">47.18</text>
<text x="724.0" y="644.1" class="tn" text-anchor="middle">3.00</text>
<text x="444.9" y="661.5" class="td" text-anchor="middle">중족골45</text>
<text x="555.0" y="661.5" class="tn" text-anchor="middle">44.84</text>
<text x="611.3" y="661.5" class="tn" text-anchor="middle">64.39</text>
<text x="667.7" y="661.5" class="tn" text-anchor="middle">54.08</text>
<text x="724.0" y="661.5" class="tn" text-anchor="middle">3.62</text>
<text x="444.9" y="678.8" class="td" text-anchor="middle">내측아치</text>
<text x="555.0" y="678.8" class="tn" text-anchor="middle">28.01</text>
<text x="611.3" y="678.8" class="tn" text-anchor="middle">33.83</text>
<text x="667.7" y="678.8" class="tn" text-anchor="middle">30.74</text>
<text x="724.0" y="678.8" class="tn" text-anchor="middle">1.33</text>
<text x="444.9" y="696.1" class="td" text-anchor="middle">외측아치</text>
<text x="555.0" y="696.1" class="tn" text-anchor="middle">29.15</text>
<text x="611.3" y="696.1" class="tn" text-anchor="middle">43.30</text>
<text x="667.7" y="696.1" class="tn" text-anchor="middle">35.08</text>
<text x="724.0" y="696.1" class="tn" text-anchor="middle">2.64</text>
<text x="444.9" y="713.3" class="td" text-anchor="middle">뒤꿈치</text>
<text x="555.0" y="713.3" class="tn" text-anchor="middle">24.34</text>
<text x="611.3" y="713.3" class="tn" text-anchor="middle">45.89</text>
<text x="667.7" y="713.3" class="tn" text-anchor="middle">34.30</text>
<text x="724.0" y="713.3" class="tn" text-anchor="middle">5.11</text>
<text x="501.6" y="661.9" class="tn" text-anchor="middle">72</text>
<text x="98.8" y="858.0" class="ax" text-anchor="end">0</text>
<text x="98.8" y="829.8" class="ax" text-anchor="end">10</text>
<text x="98.8" y="801.6" class="ax" text-anchor="end">20</text>
<text x="98.8" y="773.5" class="ax" text-anchor="end">30</text>
<text x="98.8" y="745.3" class="ax" text-anchor="end">40</text>
<path d="M104.5,856.2H322M104.5,828.0H322M104.5,799.8H322M104.5,771.7H322M104.5,743.5H322" stroke="#efefef" stroke-width="0.7"/>
<rect x="114.8" y="820.5" width="12.2" height="35.7" fill="#4472c4"/>
<text x="120.9" y="866.3" class="ct" text-anchor="middle">발가락</text>
<rect x="145.6" y="814.7" width="12.2" height="41.5" fill="#4472c4"/>
<text x="151.7" y="866.3" class="ct" text-anchor="middle">중족골1</text>
<rect x="176.4" y="809.1" width="12.2" height="47.1" fill="#4472c4"/>
<text x="182.5" y="866.3" class="ct" text-anchor="middle">중족골23</text>
<rect x="207.3" y="819.2" width="12.2" height="37.0" fill="#4472c4"/>
<text x="213.4" y="866.3" class="ct" text-anchor="middle">중족골45</text>
<rect x="238.1" y="762.2" width="12.2" height="94.0" fill="#4472c4"/>
<text x="244.2" y="866.3" class="ct" text-anchor="middle">내측아치</text>
<rect x="268.9" y="774.7" width="12.2" height="81.5" fill="#4472c4"/>
<text x="275.0" y="866.3" class="ct" text-anchor="middle">외측아치</text>
<rect x="299.7" y="783.1" width="12.2" height="73.1" fill="#4472c4"/>
<text x="305.8" y="866.3" class="ct" text-anchor="middle">뒤꿈치</text>
<text x="89.2" y="799.8" class="yl" text-anchor="middle" transform="rotate(-90 89.2 799.8)">cm²</text>
<text x="482.3" y="860.7" class="ax" text-anchor="end">0</text>
<text x="482.3" y="846.6" class="ax" text-anchor="end">10</text>
<text x="482.3" y="832.5" class="ax" text-anchor="end">20</text>
<text x="482.3" y="818.4" class="ax" text-anchor="end">30</text>
<text x="482.3" y="804.3" class="ax" text-anchor="end">40</text>
<text x="482.3" y="790.2" class="ax" text-anchor="end">50</text>
<text x="482.3" y="776.2" class="ax" text-anchor="end">60</text>
<text x="482.3" y="762.1" class="ax" text-anchor="end">70</text>
<text x="482.3" y="748.0" class="ax" text-anchor="end">80</text>
<path d="M488,858.9H704.5M488,844.8H704.5M488,830.7H704.5M488,816.6H704.5M488,802.5H704.5M488,788.4H704.5M488,774.4H704.5M488,760.3H704.5M488,746.2H704.5" stroke="#efefef" stroke-width="0.7"/>
<rect x="499.1" y="766.4" width="9.6" height="92.5" fill="#ed7d31"/>
<text x="503.9" y="869.0" class="ct" text-anchor="middle">발가락</text>
<rect x="529.9" y="760.8" width="9.6" height="98.1" fill="#ed7d31"/>
<text x="534.7" y="869.0" class="ct" text-anchor="middle">중족골1</text>
<rect x="560.7" y="792.4" width="9.6" height="66.5" fill="#ed7d31"/>
<text x="565.5" y="869.0" class="ct" text-anchor="middle">중족골23</text>
<rect x="591.6" y="782.7" width="9.6" height="76.2" fill="#ed7d31"/>
<text x="596.4" y="869.0" class="ct" text-anchor="middle">중족골45</text>
<rect x="622.4" y="815.6" width="9.6" height="43.3" fill="#ed7d31"/>
<text x="627.2" y="869.0" class="ct" text-anchor="middle">내측아치</text>
<rect x="653.2" y="809.5" width="9.6" height="49.4" fill="#ed7d31"/>
<text x="658.0" y="869.0" class="ct" text-anchor="middle">외측아치</text>
<rect x="684.0" y="810.6" width="9.6" height="48.3" fill="#ed7d31"/>
<text x="688.8" y="869.0" class="ct" text-anchor="middle">뒤꿈치</text>
<text x="472.3" y="802.5" class="yl" text-anchor="middle" transform="rotate(-90 472.3 802.5)">kPa</text>
</svg>
<div class="abs sq" style="left:131px;top:928px;background:#4472c4;"></div>
<div class="abs leg" style="left:165px;top:922.5px;">접촉면적</div>
<div class="abs sq" style="left:513px;top:928px;background:#ed7d31;"></div>
<div class="abs leg" style="left:547px;top:922.5px;">접촉압력</div>
</body>
</html>
